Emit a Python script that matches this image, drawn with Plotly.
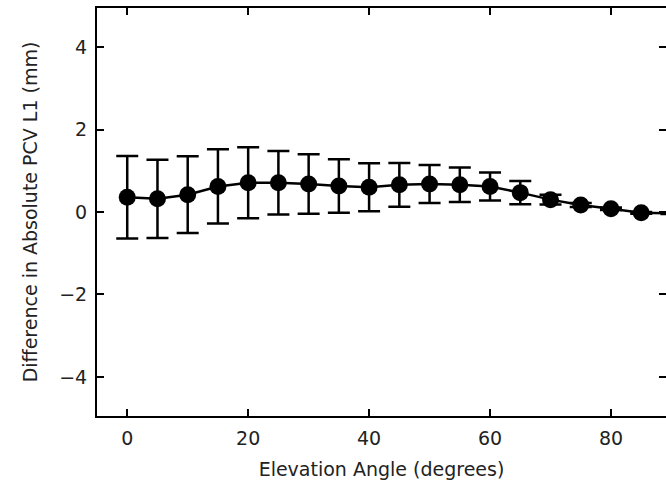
import plotly.graph_objects as go

elevation = [0, 5, 10, 15, 20, 25, 30, 35, 40, 45, 50, 55, 60, 65, 70, 75, 80, 85, 90]
diff_mean = [0.36, 0.32, 0.42, 0.62, 0.71, 0.71, 0.68, 0.63, 0.60, 0.66, 0.68, 0.66, 0.62, 0.47, 0.30, 0.17, 0.08, -0.02, -0.03]
diff_err = [1.00, 0.95, 0.93, 0.90, 0.86, 0.77, 0.72, 0.65, 0.58, 0.53, 0.46, 0.42, 0.34, 0.28, 0.12, 0.05, 0.03, 0.02, 0.02]
x_ticks = [0, 20, 40, 60, 80]
y_ticks = [-4, -2, 0, 2, 4]
y_tick_labels = ["\u22124", "\u22122", "0", "2", "4"]

fig = go.Figure()
fig.add_trace(go.Scatter(
    x=elevation, y=diff_mean,
    mode="lines+markers",
    line=dict(color="black", width=2.5),
    marker=dict(color="black", size=17, symbol="circle"),
    error_y=dict(type="data", array=diff_err, visible=True,
                 color="black", thickness=2.5, width=11),
    cliponaxis=False,
    showlegend=False,
))

font = dict(family="DejaVu Sans", size=19, color="#222222")
fig.update_layout(
    width=666, height=483,
    margin=dict(l=97, r=0, t=8, b=67, autoexpand=False),
    paper_bgcolor="white", plot_bgcolor="white",
    font=font,
    xaxis=dict(
        range=[-5, 89.1], tickvals=x_ticks,
        showgrid=False, zeroline=False,
        showline=True, linecolor="black", linewidth=2, mirror="ticks",
        ticks="inside", ticklen=7, tickwidth=1.5, tickcolor="black",
        ticklabelstandoff=4,
        title=dict(text="Elevation Angle (degrees)", font=font, standoff=15),
        tickfont=font,
    ),
    yaxis=dict(
        range=[-4.95, 4.95], tickvals=y_ticks, ticktext=y_tick_labels,
        showgrid=False, zeroline=False,
        showline=True, linecolor="black", linewidth=2, mirror="ticks",
        ticks="inside", ticklen=7, tickwidth=1.5, tickcolor="black",
        ticklabelstandoff=4,
        title=dict(text="Difference in Absolute PCV L1 (mm)", font=font, standoff=17),
        tickfont=font,
    ),
)

fig.write_html(
    "out.html",
    config={"displayModeBar": False},
    post_script="document.body.style.margin='0';document.body.style.overflow='hidden';",
)
